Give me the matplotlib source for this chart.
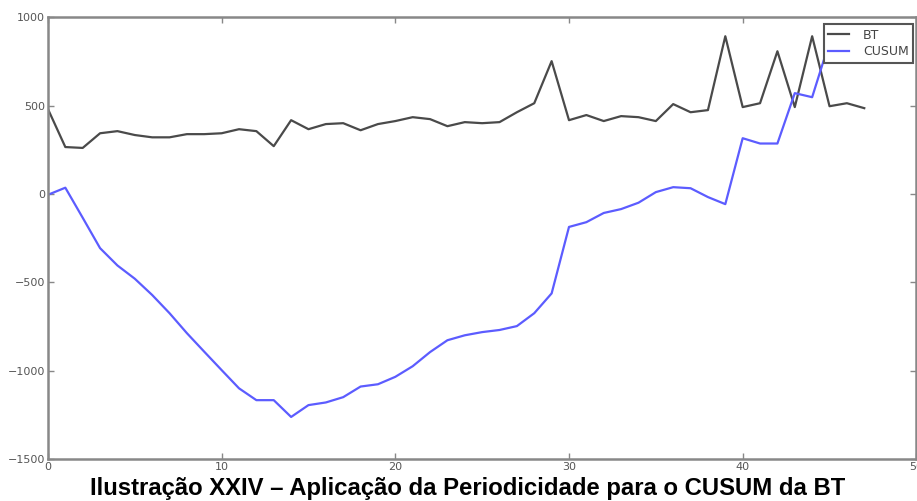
import matplotlib.pyplot as plt

# valores
bt = [480, 265, 260, 343, 355, 333, 320, 320, 338, 338,
      343, 366, 355, 270, 417, 366, 395, 400, 360, 395,
      412, 434, 423, 383, 406, 400, 406, 462, 513, 751,
      417, 446, 412, 440, 434, 412, 508, 462, 474, 892,
      491, 513, 807, 491, 892, 496, 513, 485]
cusum = [-5, 35, -135, -307, -405, -480, -572, -675, -788, -893,
         -997, -1100, -1167, -1167, -1262, -1195, -1180, -1150, -1090, -1077,
         -1035, -975, -895, -828, -800, -782, -770, -748, -675, -563,
         -187, -160, -108, -86, -50, 10, 38, 32, -18, -58,
         315, 285, 285, 570, 547, 860]
x_bt = list(range(len(bt)))
x_cusum = list(range(len(cusum)))

titulo = "Ilustração XXIV – Aplicação da Periodicidade para o CUSUM da BT"

fig = plt.figure(figsize=(9.17, 5.01), dpi=100)
ax = fig.add_axes([0.0523, 0.0838, 0.947, 0.882])

ax.plot(x_bt, bt, color='#4a4a4a', lw=1.6, label='BT')
ax.plot(x_cusum, cusum, color='#5c5cff', lw=1.6, label='CUSUM')

ax.set_xlim(0, 50)
ax.set_ylim(-1500, 1000)
ax.set_xticks([0, 10, 20, 30, 40, 50])
ax.set_yticks([-1500, -1000, -500, 0, 500, 1000])
ax.tick_params(direction='in', length=4, width=1, colors='#888888',
               labelcolor='#555555', labelsize=8, top=True, right=True, pad=2)
for s in ax.spines.values():
    s.set_color('#888888')
    s.set_linewidth(1.8)

leg = ax.legend(loc='upper right', bbox_to_anchor=(0.9965, 0.984),
                borderaxespad=0, fontsize=9, fancybox=False, framealpha=1,
                handlelength=1.7, handletextpad=1.1, labelspacing=0.3,
                borderpad=0.35)
leg.get_frame().set_edgecolor('#555555')
leg.get_frame().set_linewidth(1.5)
for t in leg.get_texts():
    t.set_color('#444444')

fig.text(0.51, 0.025, titulo, ha='center', va='center', fontsize=17.2,
         fontweight='bold', family='Liberation Sans')

fig.savefig('out.png', dpi=100)
